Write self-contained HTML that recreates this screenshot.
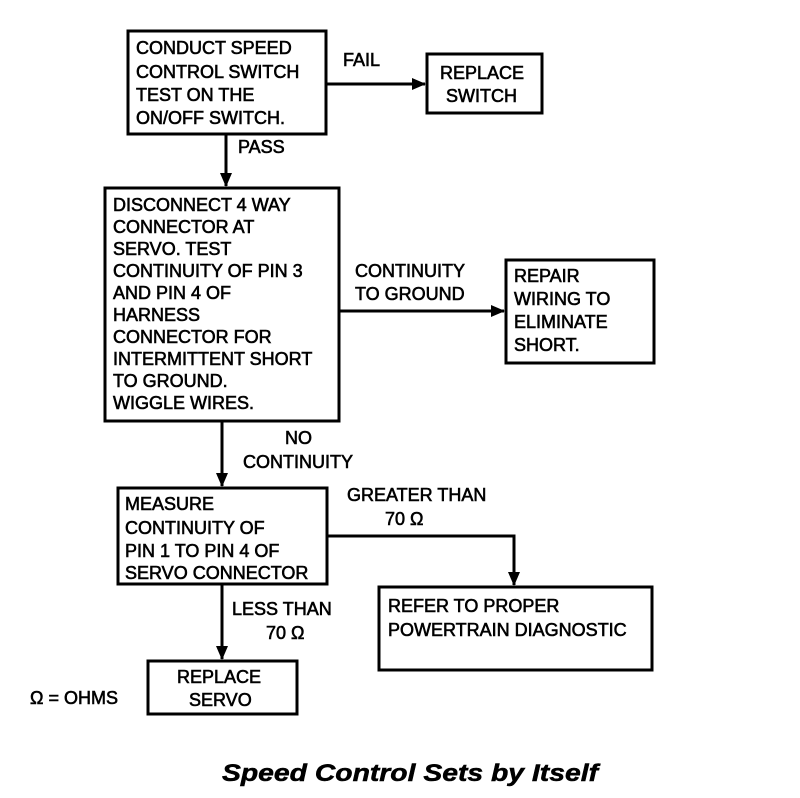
<!DOCTYPE html>
<html><head><meta charset="utf-8"><style>
html,body{margin:0;padding:0;background:#fff;}
svg{display:block;}
text{font-family:"Liberation Sans",sans-serif;font-size:18px;fill:#000;stroke:#000;stroke-width:0.6;}
.t{font-size:24px;font-weight:bold;font-style:italic;stroke-width:0.5;}
</style></head><body>
<svg width="800" height="798" viewBox="0 0 800 798" xmlns="http://www.w3.org/2000/svg">
<defs><marker id="a" markerWidth="14" markerHeight="14" refX="13" refY="6" orient="auto" markerUnits="userSpaceOnUse"><path d="M0,0 L14,6 L0,12 z" fill="#000"/></marker></defs>
<g fill="none" stroke="#000" stroke-width="3">
<rect x="128" y="31" width="198" height="103"/>
<rect x="427" y="54" width="115" height="59"/>
<rect x="105" y="188" width="234" height="233"/>
<rect x="506" y="260" width="148" height="103"/>
<rect x="118" y="488" width="209" height="96"/>
<rect x="379" y="587" width="273" height="83"/>
<rect x="148" y="661" width="149" height="53"/>
<line x1="326" y1="84" x2="425" y2="84" marker-end="url(#a)"/>
<line x1="226" y1="134" x2="226" y2="186" marker-end="url(#a)"/>
<line x1="339" y1="311" x2="504" y2="311" marker-end="url(#a)"/>
<line x1="222" y1="421" x2="222" y2="486" marker-end="url(#a)"/>
<polyline points="327,536 514,536 514,585" marker-end="url(#a)"/>
<line x1="222" y1="584" x2="222" y2="659" marker-end="url(#a)"/>
</g>
<text x="136" y="54">CONDUCT SPEED</text>
<text x="136" y="78">CONTROL SWITCH</text>
<text x="136" y="101">TEST ON THE</text>
<text x="136" y="124">ON/OFF SWITCH.</text>
<text x="343" y="66">FAIL</text>
<text x="440" y="79">REPLACE</text>
<text x="446" y="102">SWITCH</text>
<text x="238" y="153">PASS</text>
<text x="113" y="211">DISCONNECT 4 WAY</text>
<text x="113" y="233">CONNECTOR AT</text>
<text x="113" y="255">SERVO. TEST</text>
<text x="113" y="277">CONTINUITY OF PIN 3</text>
<text x="113" y="299">AND PIN 4 OF</text>
<text x="113" y="321">HARNESS</text>
<text x="113" y="343">CONNECTOR FOR</text>
<text x="113" y="365">INTERMITTENT SHORT</text>
<text x="113" y="387">TO GROUND.</text>
<text x="113" y="409">WIGGLE WIRES.</text>
<text x="355" y="277">CONTINUITY</text>
<text x="355" y="300">TO GROUND</text>
<text x="514" y="282">REPAIR</text>
<text x="514" y="305">WIRING TO</text>
<text x="514" y="328">ELIMINATE</text>
<text x="514" y="351">SHORT.</text>
<text x="285" y="444">NO</text>
<text x="243" y="468">CONTINUITY</text>
<text x="125" y="510">MEASURE</text>
<text x="125" y="534">CONTINUITY OF</text>
<text x="125" y="557">PIN 1 TO PIN 4 OF</text>
<text x="125" y="579">SERVO CONNECTOR</text>
<text x="347" y="501">GREATER THAN</text>
<text x="385" y="525">70 Ω</text>
<text x="388" y="612">REFER TO PROPER</text>
<text x="388" y="636">POWERTRAIN DIAGNOSTIC</text>
<text x="232" y="615">LESS THAN</text>
<text x="266" y="639">70 Ω</text>
<text x="177" y="683">REPLACE</text>
<text x="189" y="706">SERVO</text>
<text x="30" y="704">Ω = OHMS</text>
<text class="t" x="222" y="781" textLength="376" lengthAdjust="spacingAndGlyphs">Speed Control Sets by Itself</text>
</svg>
</body></html>
